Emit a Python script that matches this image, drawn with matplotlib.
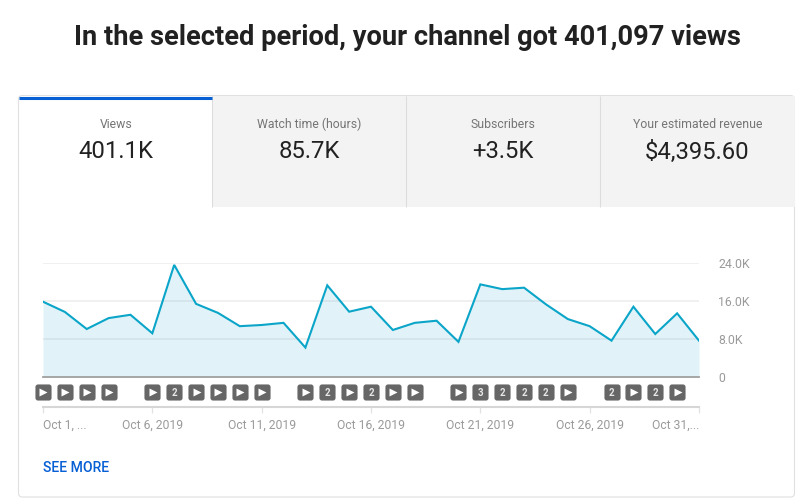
import matplotlib
matplotlib.use('Agg')
import matplotlib.pyplot as plt
import matplotlib.patches as mpatches

plt.rcParams['font.family'] = ['Roboto', 'DejaVu Sans']

# daily views
days = list(range(1, 32))
views = [15850, 13700, 10100, 12400, 13100, 9200, 23600, 15400, 13500, 10700,
         10950, 11400, 6200, 19300, 13750, 14800, 9900, 11400, 11850, 7400,
         19500, 18500, 18800, 15300, 12200, 10700, 7650, 14800, 9050, 13400,
         7650]
# badge per day: '' nothing, '>' play icon, otherwise the count
badges = ['>', '>', '>', '>', '', '>', '2', '>', '>', '>', '>', '',
          '>', '2', '>', '2', '>', '>', '', '>', '3', '2', '2', '2', '>', '',
          '2', '>', '2', '>', '']

y_ticks = [0, 8000, 16000, 24000]
y_labels = ['0', '8.0K', '16.0K', '24.0K']
x_ticks = [1, 6, 11, 16, 21, 26, 31]
x_labels = ['Oct 1, ...', 'Oct 6, 2019', 'Oct 11, 2019', 'Oct 16, 2019',
            'Oct 21, 2019', 'Oct 26, 2019', 'Oct 31,...']

title = 'In the selected period, your channel got 401,097 views'
tab_names = ['Views', 'Watch time (hours)', 'Subscribers', 'Your estimated revenue']
tab_values = ['401.1K', '85.7K', '+3.5K', '$4,395.60']

W, H = 806, 499
fig = plt.figure(figsize=(W / 100, H / 100), dpi=100, facecolor='white')


def px_axes(x0, y0, x1, y1):
    # axes from pixel box, y counted from the top of the image
    return fig.add_axes([x0 / W, 1 - y1 / H, (x1 - x0) / W, (y1 - y0) / H])


# card and tabs, in pixels
bg = px_axes(0, 0, W, H)
bg.set_xlim(0, W)
bg.set_ylim(H, 0)
bg.axis('off')

card = mpatches.FancyBboxPatch((18.5, 95.5), 776, 401.5,
                               boxstyle='round,pad=0,rounding_size=4',
                               fc='white', ec='#e0e0e0', lw=0.8)
bg.add_patch(card)
grey = mpatches.FancyBboxPatch((212, 96), 582.5, 111,
                               boxstyle='square,pad=0', fc='#f3f3f3', ec='none')
bg.add_patch(grey)
for x in [212, 406, 600]:
    bg.plot([x, x], [96, 207], color='#dcdcdc', lw=0.75, solid_capstyle='butt')
bg.plot([19, 212], [97.5, 97.5], color='#065fd4', lw=2.2, solid_capstyle='butt')

centers = [116, 309.5, 503, 697.5]
for cx, name, value in zip(centers, tab_names, tab_values):
    bg.text(cx, 124, name, ha='center', va='center', fontsize=8.85, color='#757575')
    bg.text(cx, 152, value, ha='center', va='center', fontsize=17.2, color='#212121')

bg.text(407, 37, title, ha='center', va='center', fontsize=19.6,
        fontweight='bold', color='#212121')
bg.text(43, 468, 'SEE MORE', ha='left', va='center', fontsize=10.1,
        fontweight='medium', color='#065fd4')

# main chart
ax = px_axes(43, 263, 699, 377)
ax.patch.set_alpha(0)
ax.set_xlim(1, 31)
ax.set_ylim(0, 24000)
ax.fill_between(days, views, 0, color='#e1f3f9', lw=0, zorder=1)
ax.plot(days, views, color='#0aa5c8', lw=1.5, zorder=3, solid_joinstyle='miter')
for v in y_ticks[1:]:
    ax.axhline(v, color='#5a5a5a', alpha=0.09, lw=1.4, zorder=2)
for s in ax.spines.values():
    s.set_visible(False)
ax.spines['bottom'].set_visible(True)
ax.spines['bottom'].set_color('#a0a0a0')
ax.spines['bottom'].set_linewidth(1.3)
ax.set_xticks([])
ax.yaxis.tick_right()
ax.set_yticks(y_ticks)
ax.set_yticklabels(y_labels, fontsize=8.85, color='#9a9a9a')
ax.tick_params(axis='y', length=0, pad=14)

# badge strip and date axis
strip = px_axes(43, 378, 699, 407)
strip.patch.set_alpha(0)
strip.set_xlim(1, 31)
strip.set_ylim(0, 1)
for s in strip.spines.values():
    s.set_visible(False)
strip.spines['bottom'].set_visible(True)
strip.spines['bottom'].set_color('#d6d6d6')
strip.spines['bottom'].set_linewidth(1.5)
strip.set_yticks([])
strip.set_xticks(x_ticks)
strip.set_xticklabels(x_labels, fontsize=8.7, color='#9a9a9a')
strip.tick_params(axis='x', length=4, width=0.9, color='#e2e2e2', pad=4.5)
strip.get_xticklabels()[0].set_ha('left')
strip.get_xticklabels()[-1].set_ha('right')

box = mpatches.FancyBboxPatch((-0.5, -0.5), 1, 1,
                              boxstyle='round,pad=0,rounding_size=0.16').get_path()
for day, badge in zip(days, badges):
    if badge == '':
        continue
    strip.plot(day, 0.517, marker=box, ms=11.6, mfc='#666666', mec='none',
               clip_on=False, zorder=3)
    if badge == '>':
        strip.plot(day + 0.02, 0.517, marker='>', ms=5.4, mfc='white', mec='none',
                   clip_on=False, zorder=4)
    else:
        strip.text(day, 0.5, badge, ha='center', va='center', fontsize=7,
                   fontweight='bold', color='#e8e8e8', zorder=4)

plt.savefig('out.png', dpi=100)
